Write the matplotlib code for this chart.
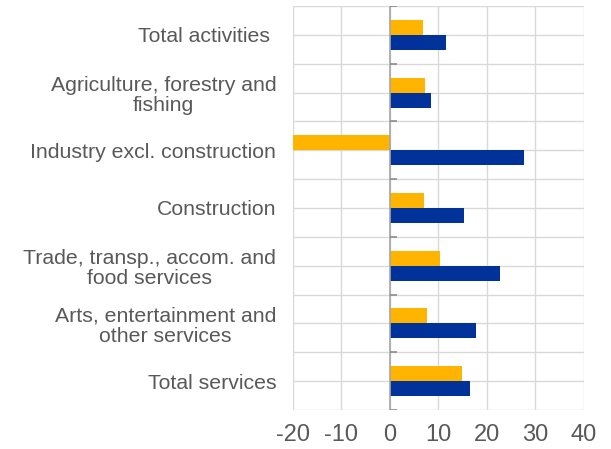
import numpy as np
import matplotlib.pyplot as plt

plt.rcParams['font.family'] = ['Liberation Sans', 'DejaVu Sans']

categories = [
    "Total activities ",
    "Agriculture, forestry and\nfishing",
    "Industry excl. construction",
    "Construction",
    "Trade, transp., accom. and\nfood services",
    "Arts, entertainment and\nother services",
    "Total services",
]
series_yellow = [6.9, 7.3, -21.5, 7.1, 10.4, 7.6, 14.8]
series_blue = [11.5, 8.4, 27.7, 15.3, 22.7, 17.8, 16.4]
x_ticks = [-20, -10, 0, 10, 20, 30, 40]

yellow = '#ffb400'
blue = '#003299'
grey_txt = '#595959'
grid_c = '#d9d9d9'

fig = plt.figure(figsize=(6.11, 4.49), dpi=100)
ax = fig.add_axes([0.4795, 0.0869, 0.4763, 0.8997])

y = np.arange(len(categories))
h = 0.26
ax.barh(y - h / 2, series_yellow, height=h, color=yellow, zorder=3)
ax.barh(y + h / 2, series_blue, height=h, color=blue, zorder=3)

ax.set_xlim(-20, 40)
ax.set_ylim(len(categories) - 0.5, -0.5)
ax.set_xticks(x_ticks)
ax.set_xticklabels([str(t) for t in x_ticks])
ax.set_yticks(y)
ax.set_yticklabels(categories)
ax.set_yticks(np.arange(len(categories) + 1) - 0.5, minor=True)

ax.grid(True, which='both', color=grid_c, lw=1, zorder=0)
ax.tick_params(axis='both', which='both', length=0)
ax.tick_params(axis='y', labelsize=15.3, colors=grey_txt, pad=12)
ax.tick_params(axis='x', labelsize=17, colors=grey_txt, pad=10)
for lab in ax.get_yticklabels():
    lab.set_multialignment('center')
    lab.set_linespacing(1.1)
for s in ax.spines.values():
    s.set_visible(False)

# zero line with small category ticks
ax.axvline(0, color='#a6a6a6', lw=1.2, zorder=4)
ax.hlines(np.arange(len(categories) + 1) - 0.5, 0, 1.4, color='#8c8c8c', lw=1.2, zorder=4)

fig.savefig('out.png', dpi=100)
